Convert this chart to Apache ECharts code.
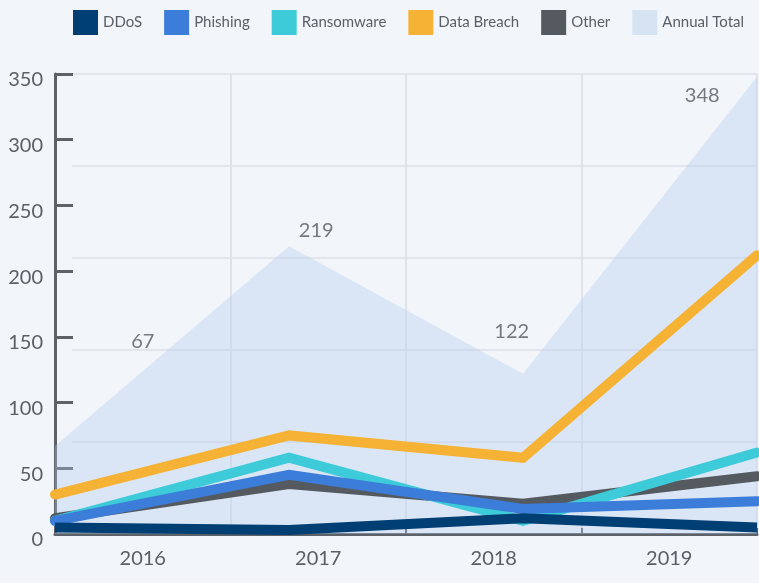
<!DOCTYPE html>
<html>
<head>
<meta charset="utf-8">
<script src="https://cdn.jsdelivr.net/npm/echarts@6/dist/echarts.min.js"></script>
<style>
  html, body { margin: 0; padding: 0; background: #f2f5fa; }
  #main { width: 759px; height: 583px; }
</style>
</head>
<body>
<div id="main"></div>
<script>
var years = ['2016', '2017', '2018', '2019'];
var ddos = [5, 3, 12, 5];
var phishing = [10, 45, 19, 25];
var ransomware = [10, 58, 10, 62];
var dataBreach = [30, 75, 58, 212];
var other = [12, 38, 23, 44];
var annualTotal = [67, 219, 122, 348];
var yTicks = [0, 350, 50];

// label nudges for the total values (pixels), kept apart from the data
var totalLabelOffsets = [[0, -104], [-2, -16], [18, -42], [33, 19]];

var font = 'Lato, "Noto Sans", sans-serif';
var textColor = '#5a5f66';

function lineSeries(name, data, color, z, cap) {
    return {
        name: name,
        type: 'line',
        xAxisIndex: 1,
        yAxisIndex: 0,
        data: data,
        z: z,
        symbol: 'none',
        lineStyle: { color: color, width: 10, cap: cap || 'round', join: 'miter' },
        itemStyle: { color: color },
        animation: false
    };
}

var totalLabels = annualTotal.map(function (v, i) {
    return {
        value: v,
        label: { offset: totalLabelOffsets[i] }
    };
});

var option = {
    backgroundColor: '#f2f5fa',
    animation: false,
    legend: {
        left: 73,
        top: 10,
        padding: 0,
        itemWidth: 25,
        itemHeight: 25,
        itemGap: 22,
        icon: 'rect',
        textStyle: { color: textColor, fontSize: 15, fontFamily: font },
        data: [
            { name: 'DDoS', itemStyle: { color: '#003f73' } },
            { name: 'Phishing', itemStyle: { color: '#3b7dd8' } },
            { name: 'Ransomware', itemStyle: { color: '#3dcbd9' } },
            { name: 'Data Breach', itemStyle: { color: '#f6b234' } },
            { name: 'Other', itemStyle: { color: '#555a61' } },
            { name: 'Annual Total', itemStyle: { color: '#d6e3f3' } }
        ]
    },
    grid: [
        { left: 55, right: 2, top: 74, bottom: 49 },
        { left: 72, right: 2, top: 74, bottom: 49 }
    ],
    xAxis: [
        {
            type: 'category',
            gridIndex: 0,
            data: years,
            boundaryGap: true,
            axisLine: { lineStyle: { color: '#5d6168', width: 3 } },
            axisTick: { show: true, inside: true, length: 6, lineStyle: { color: '#5d6168', width: 2 } },
            axisLabel: { color: textColor, fontSize: 20, fontFamily: font, margin: 15 },
            splitLine: { show: true, lineStyle: { color: '#dfe3ea', width: 2 } }
        },
        {
            type: 'category',
            gridIndex: 0,
            data: years,
            boundaryGap: false,
            show: false
        },
        {
            type: 'value',
            gridIndex: 1,
            show: false
        }
    ],
    yAxis: [
        {
            type: 'value',
            gridIndex: 0,
            min: yTicks[0],
            max: yTicks[1],
            interval: yTicks[2],
            axisLine: { show: true, lineStyle: { color: '#5d6168', width: 3 } },
            axisTick: { show: true, inside: true, length: 18, lineStyle: { color: '#5d6168', width: 3 } },
            axisLabel: {
                color: textColor, fontSize: 20, fontFamily: font, margin: 12,
                verticalAlign: 'top', lineHeight: 12
            },
            splitLine: { show: false }
        },
        {
            type: 'value',
            gridIndex: 1,
            min: 0,
            max: 350,
            interval: 70,
            axisLine: { show: false },
            axisTick: { show: false },
            axisLabel: { show: false },
            splitLine: { show: true, lineStyle: { color: '#e2e5eb', width: 2 } }
        }
    ],
    series: [
        {
            name: 'Annual Total',
            type: 'line',
            xAxisIndex: 1,
            yAxisIndex: 0,
            data: annualTotal,
            z: 1,
            symbol: 'none',
            lineStyle: { width: 0 },
            itemStyle: { color: '#d6e3f3' },
            areaStyle: { color: 'rgba(176,203,238,0.5)', origin: 'start' }
        },
        {
            name: 'Annual Total labels',
            type: 'scatter',
            xAxisIndex: 0,
            yAxisIndex: 0,
            data: totalLabels,
            symbolSize: 0,
            z: 10,
            silent: true,
            label: {
                show: true,
                position: 'inside',
                color: '#555a60',
                fontSize: 20,
                fontFamily: font
            }
        },
        lineSeries('DDoS', ddos, '#003f73', 6, 'butt'),
        lineSeries('Phishing', phishing, '#3b7dd8', 4),
        lineSeries('Ransomware', ransomware, '#3dcbd9', 3),
        lineSeries('Data Breach', dataBreach, '#f6b234', 5),
        lineSeries('Other', other, '#555a61', 2)
    ]
};

var chart = echarts.init(document.getElementById('main'));
chart.setOption(option);
</script>
</body>
</html>
